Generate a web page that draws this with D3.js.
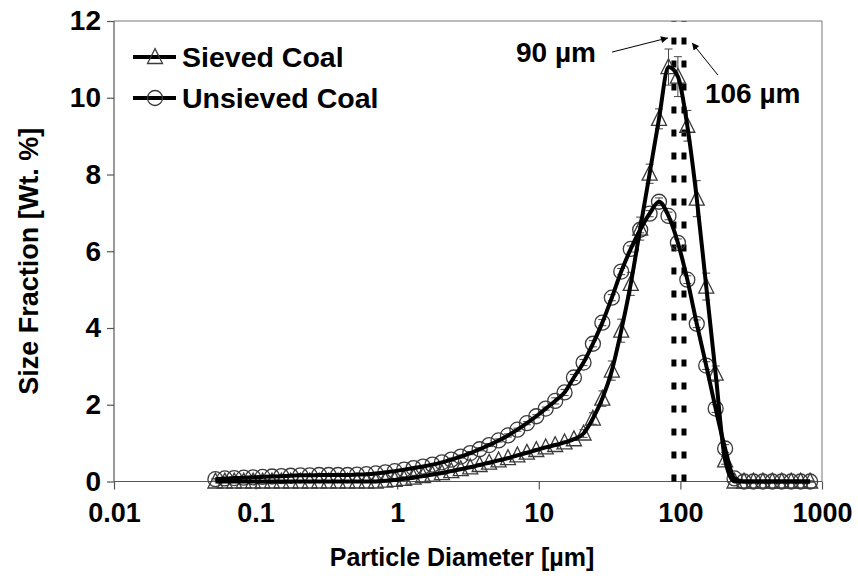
<!DOCTYPE html>
<html><head><meta charset="utf-8">
<script src="https://cdn.jsdelivr.net/npm/d3@7"></script>
<style>
body{margin:0;background:#fff}
text{font-family:"Liberation Sans",Arial,sans-serif;font-weight:bold;fill:#000}
</style>
</head><body>
<svg id="chart" width="858" height="576"></svg>
<script>
// Particle diameters (µm), log-spaced bins
const diameters = [0.0520,0.0606,0.0706,0.0824,0.0960,0.112,0.1305,0.152,0.177,0.207,0.241,0.281,0.328,0.382,0.446,0.520,
  0.606,0.706,0.824,0.960,1.119,1.305,1.522,1.774,2.07,2.41,2.81,3.28,3.82,4.46,5.20,6.06,
  7.06,8.24,9.60,11.19,13.05,15.2,17.7,20.7,24.1,28.1,32.8,38.2,44.6,52.0,60.6,70.6,
  82.4,96.0,111.9,130.5,152.2,177.4,206.9,241.2,281.2,327.9,382.3,445.7,519.6,605.8,706.3,823.8];

const sieved = [0,0,0,0,0,0,0,0,0,0,0,0,0,0,0,0,
  0,0,0.02,0.04,0.07,0.10,0.14,0.18,0.22,0.27,0.32,0.37,0.43,0.49,0.55,0.61,
  0.68,0.75,0.82,0.89,0.95,1.02,1.10,1.25,1.64,2.16,2.89,3.93,5.15,6.59,8.02,9.45,
  10.8,10.55,9.27,7.37,5.08,2.81,0.55,0,0,0,0,0,0,0,0,0];

const unsieved = [0.06,0.08,0.09,0.10,0.11,0.12,0.13,0.14,0.15,0.16,0.16,0.17,0.17,0.17,0.17,0.18,
  0.19,0.21,0.24,0.27,0.31,0.35,0.39,0.44,0.50,0.57,0.65,0.74,0.84,0.95,1.07,1.20,
  1.35,1.52,1.70,1.90,2.10,2.32,2.71,3.10,3.59,4.14,4.79,5.47,6.06,6.56,6.98,7.29,
  6.92,6.22,5.26,4.11,3.02,1.90,0.86,0.08,0,0,0,0,0,0,0,0];

const sievedErr = [0,0,0,0,0,0,0,0,0,0,0,0,0,0,0,0,
  0,0.03,0.03,0.03,0.03,0.03,0.03,0.03,0.03,0.03,0.03,0.03,0.03,0.03,0.03,0.03,
  0.03,0.03,0.03,0.03,0.03,0.03,0.03,0.10,0.15,0.20,0.25,0.30,0.30,0.30,0.25,0.26,
  0.47,0.52,0.40,0.47,0.35,0.20,0.10,0,0,0,0,0,0,0,0,0];

const unsievedErr = [0.02,0.02,0.02,0.02,0.02,0.02,0.02,0.02,0.02,0.02,0.02,0.02,0.02,0.02,0.02,0.02,
  0.02,0.02,0.02,0.02,0.02,0.02,0.02,0.02,0.02,0.04,0.04,0.04,0.04,0.04,0.04,0.04,
  0.04,0.04,0.04,0.04,0.08,0.08,0.08,0.08,0.08,0.08,0.08,0.08,0.08,0.08,0.08,0.10,
  0.10,0.10,0.10,0.10,0.10,0.10,0.10,0.02,0.02,0.02,0.02,0.02,0.02,0.02,0.02,0.02];

const xTicks = [0.01,0.1,1,10,100,1000];
const xTickLabels = ["0.01","0.1","1","10","100","1000"];
const yTicks = [0,2,4,6,8,10,12];
const seriesNames = ["Sieved Coal","Unsieved Coal"];
const markerDiameters = [90,106];
const annotationLabels = ["90 µm","106 µm"];
// annotation anchors in data units: [labelX, labelY, arrowFromX, arrowFromY, arrowToX, arrowToY]
const annotationAnchors = [[6.9,10.93,32.9,11.19,81.7,11.56],[149,9.86,184,10.59,120.8,11.43]];

const svg = d3.select("#chart");
const L=114,R=822,T=21,B=481.5;
const x = d3.scaleLog().domain([0.01,1000]).range([L,R]);
const y = d3.scaleLinear().domain([0,12]).range([B,T]);

// frame (top, right)
svg.append("line").attr("x1",L).attr("x2",R).attr("y1",T).attr("y2",T).attr("stroke","#777").attr("stroke-width",1);
svg.append("line").attr("x1",R).attr("x2",R).attr("y1",T).attr("y2",B).attr("stroke","#777").attr("stroke-width",1);

const xa = svg.append("g").attr("transform",`translate(0,${B})`)
  .call(d3.axisBottom(x).tickValues(xTicks).tickFormat((d,i)=>xTickLabels[i]).tickSize(8).tickPadding(13));
const ya = svg.append("g").attr("transform",`translate(${L},0)`)
  .call(d3.axisLeft(y).tickValues(yTicks).tickSize(7).tickPadding(6));
[[xa,27],[ya,28]].forEach(([g,f])=>{
  g.select(".domain").attr("stroke","#555").attr("stroke-width",1.2);
  g.selectAll(".tick line").attr("stroke","#555").attr("stroke-width",1.2);
  g.selectAll(".tick text").attr("font-size",f).attr("font-family","Liberation Sans, Arial, sans-serif").attr("font-weight","bold").attr("fill","#000");
});
xa.select(".domain").attr("d",`M${L},0H${R}`);
ya.select(".domain").attr("d",`M0,${T}V${B}`);

// axis titles
svg.append("text").attr("x",462).attr("y",566).attr("text-anchor","middle").attr("font-size",25)
  .text("Particle Diameter [µm]");
svg.append("text").attr("transform",`translate(38,${(T+B)/2+10}) rotate(-90)`).attr("text-anchor","middle").attr("font-size",27)
  .text("Size Fraction [Wt. %]");

// dotted vertical lines
svg.selectAll(".vline").data(markerDiameters).enter().append("line")
  .attr("x1",d=>x(d)).attr("x2",d=>x(d)).attr("y1",y(0)).attr("y2",y(12))
  .attr("stroke","#000").attr("stroke-width",5).attr("stroke-dasharray","7,16");

const pts = (vals,errs)=>diameters.map((d,i)=>({d,v:vals[i],e:errs[i]}));
const sData = pts(sieved,sievedErr), uData = pts(unsieved,unsievedErr);
const line = d3.line().x(p=>x(p.d)).y(p=>y(p.v)).curve(d3.curveMonotoneX);

function errBars(data){
  const g = svg.append("g").attr("stroke","#444").attr("stroke-width",1);
  data.filter(p=>p.e>0).forEach(p=>{
    const cx=x(p.d), y1=y(p.v+p.e), y2=y(p.v-p.e);
    g.append("line").attr("x1",cx).attr("x2",cx).attr("y1",y1).attr("y2",y2);
    g.append("line").attr("x1",cx-4).attr("x2",cx+4).attr("y1",y1).attr("y2",y1);
    g.append("line").attr("x1",cx-4).attr("x2",cx+4).attr("y1",y2).attr("y2",y2);
  });
}
const triPath = (cx,cy,s)=>{const h=s*0.9; return `M${cx},${cy-h*0.62}L${cx+s/2},${cy+h*0.48}L${cx-s/2},${cy+h*0.48}Z`;};

function drawMarkers(data,type){
  const g = svg.append("g").attr("fill","none").attr("stroke","#3a3a3a").attr("stroke-width",1.3);
  data.forEach(p=>{
    if(type==="tri") g.append("path").attr("d",triPath(x(p.d),y(p.v),15));
    else g.append("circle").attr("cx",x(p.d)).attr("cy",y(p.v)).attr("r",7.5);
  });
}

drawMarkers(uData,"circ");
drawMarkers(sData,"tri");
errBars(uData); errBars(sData);
svg.append("path").datum(uData).attr("d",line).attr("fill","none").attr("stroke","#000").attr("stroke-width",4).attr("stroke-linejoin","round");
svg.append("path").datum(sData).attr("d",line).attr("fill","none").attr("stroke","#000").attr("stroke-width",4).attr("stroke-linejoin","round");

// legend
const leg = [{name:seriesNames[0],type:"tri",yy:57,ty:67},{name:seriesNames[1],type:"circ",yy:98,ty:108}];
leg.forEach(l=>{
  svg.append("line").attr("x1",133).attr("x2",176).attr("y1",l.yy).attr("y2",l.yy).attr("stroke","#000").attr("stroke-width",4);
  if(l.type==="tri") svg.append("path").attr("d",triPath(155,l.yy,15)).attr("fill","none").attr("stroke","#3a3a3a").attr("stroke-width",1.3);
  else svg.append("circle").attr("cx",155).attr("cy",l.yy).attr("r",7.5).attr("fill","none").attr("stroke","#3a3a3a").attr("stroke-width",1.3);
  svg.append("text").attr("x",182).attr("y",l.ty).attr("font-size",28.5).text(l.name);
});

// annotations
const defs = svg.append("defs");
defs.append("marker").attr("id","ah").attr("viewBox","0 0 10 10").attr("refX",10).attr("refY",5)
  .attr("markerWidth",9).attr("markerHeight",7).attr("markerUnits","userSpaceOnUse").attr("orient","auto")
  .append("path").attr("d","M0,0L10,5L0,10Z").attr("fill","#000");
annotationAnchors.forEach((a,i)=>{
  svg.append("text").attr("x",x(a[0])).attr("y",y(a[1])).attr("font-size",28).text(annotationLabels[i]);
  svg.append("line").attr("x1",x(a[2])).attr("y1",y(a[3])).attr("x2",x(a[4])).attr("y2",y(a[5]))
    .attr("stroke","#000").attr("stroke-width",1).attr("marker-end","url(#ah)");
});
</script>
</body></html>
